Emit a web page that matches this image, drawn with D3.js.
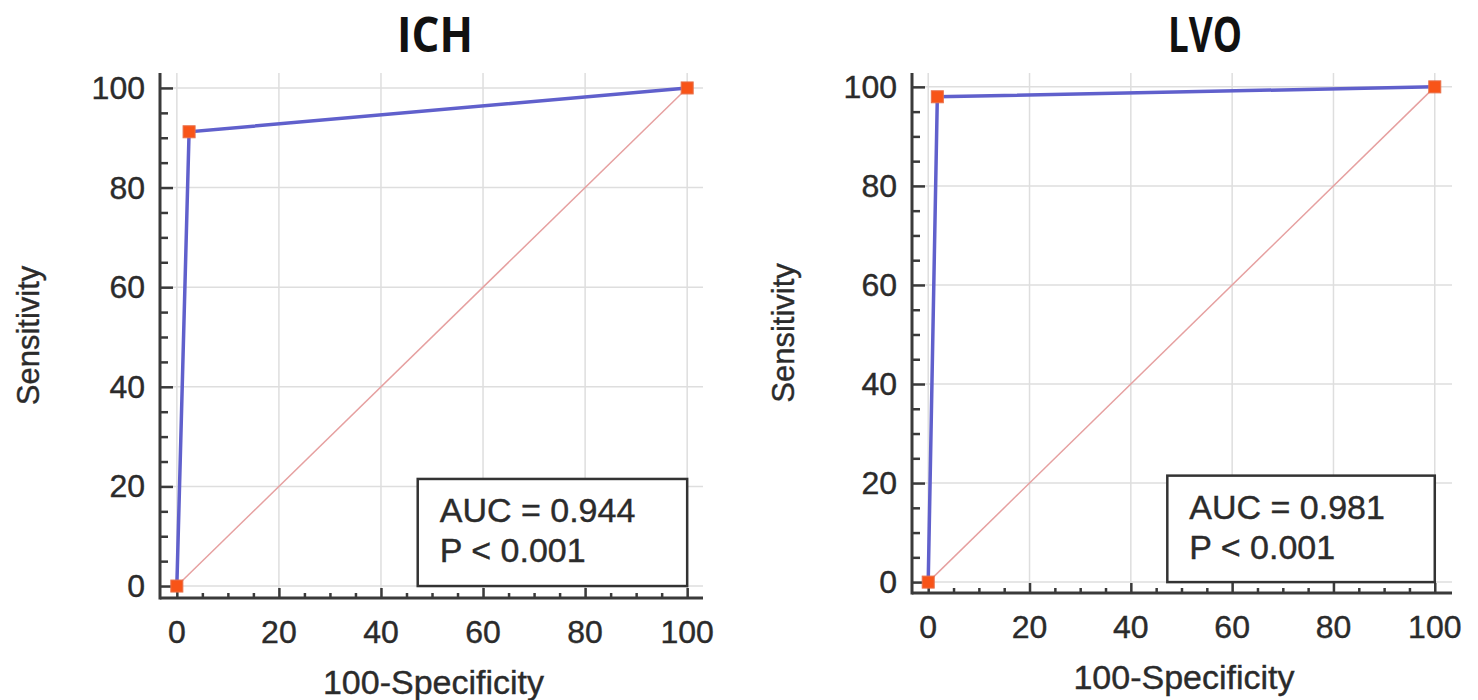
<!DOCTYPE html>
<html>
<head>
<meta charset="utf-8">
<script src="https://cdn.jsdelivr.net/npm/d3@7"></script>
<style>
  body { margin: 0; background: #fff; }
  svg text { font-family: "Liberation Sans", Arial, sans-serif; fill: #2b2b2b; stroke: #2b2b2b; stroke-width: 0.4; }
</style>
</head>
<body>
<svg id="chart" width="1478" height="700"></svg>
<script>
// data
var titles = ["ICH", "LVO"];
var fprICH = [0, 2.4, 100],  tprICH = [0, 91.2, 100];
var fprLVO = [0, 1.8, 100],  tprLVO = [0, 98.0, 100];
var aucText = ["AUC = 0.944", "AUC = 0.981"];
var pText = ["P < 0.001", "P < 0.001"];
var majorTicks = [0, 20, 40, 60, 80, 100];
var minorTicks = [5, 10, 15, 25, 30, 35, 45, 50, 55, 65, 70, 75, 85, 90, 95];
var xLabel = "100-Specificity", yLabel = "Sensitivity";

// layout of the two panels (pixel ranges of the axis lines)
var layout = [
  {xr: [160, 703], xd: [-3.3, 103.1], yr: [598, 73], yd: [-2.4, 103], cx: 435, ylab: 39},
  {xr: [912, 1452], xd: [-3.2, 103.4], yr: [593, 73], yd: [-2.2, 102.8], cx: 1205, ylab: 794}
];
var series = [
  {fpr: fprICH, tpr: tprICH},
  {fpr: fprLVO, tpr: tprLVO}
];

var svg = d3.select("#chart");

layout.forEach(function (L, i) {
  var x = d3.scaleLinear().domain(L.xd).range(L.xr),
      y = d3.scaleLinear().domain(L.yd).range(L.yr),
      g = svg.append("g");

  // grid
  g.selectAll(".vg").data(majorTicks).enter().append("line")
    .attr("x1", x).attr("x2", x)
    .attr("y1", L.yr[0]).attr("y2", L.yr[1])
    .attr("stroke", "#dedede").attr("stroke-width", 1.5);
  g.selectAll(".hg").data(majorTicks).enter().append("line")
    .attr("y1", y).attr("y2", y)
    .attr("x1", L.xr[0]).attr("x2", L.xr[1])
    .attr("stroke", "#dedede").attr("stroke-width", 1.5);

  // diagonal
  g.append("line")
    .attr("x1", x(0)).attr("y1", y(0)).attr("x2", x(100)).attr("y2", y(100))
    .attr("stroke", "#e6a0a0").attr("stroke-width", 1.5);

  // axes
  var xAxis = d3.axisTop(x).tickValues(majorTicks).tickSize(10).tickFormat("");
  var xMinor = d3.axisTop(x).tickValues(minorTicks).tickSize(5).tickFormat("");
  var yAxis = d3.axisRight(y).tickValues(majorTicks).tickSize(13).tickFormat("");
  var yMinor = d3.axisRight(y).tickValues(minorTicks).tickSize(8).tickFormat("");

  [[xAxis, "translate(0," + L.yr[0] + ")"], [xMinor, "translate(0," + L.yr[0] + ")"],
   [yAxis, "translate(" + L.xr[0] + ",0)"], [yMinor, "translate(" + L.xr[0] + ",0)"]].forEach(function (a) {
    var ag = g.append("g").attr("transform", a[1]).call(a[0].tickSizeOuter(0));
    ag.select(".domain").remove();
    ag.selectAll("line").attr("stroke", "#3a3a3a").attr("stroke-width", 2.5);
  });
  g.append("line").attr("x1", L.xr[0]).attr("x2", L.xr[1]).attr("y1", L.yr[0]).attr("y2", L.yr[0])
    .attr("stroke", "#3a3a3a").attr("stroke-width", 3);
  g.append("line").attr("x1", L.xr[0]).attr("x2", L.xr[0]).attr("y1", L.yr[0] + 1.5).attr("y2", L.yr[1])
    .attr("stroke", "#3a3a3a").attr("stroke-width", 3);

  // tick labels
  g.selectAll(".xl").data(majorTicks).enter().append("text")
    .attr("x", x).attr("y", L.yr[0] + 45)
    .attr("text-anchor", "middle").attr("font-size", 32).text(function (d) { return d; });
  g.selectAll(".yl").data(majorTicks).enter().append("text")
    .attr("x", L.xr[0] - 15).attr("y", function (d) { return y(d) + 11; })
    .attr("text-anchor", "end").attr("font-size", 32).text(function (d) { return d; });

  // axis titles
  g.append("text").attr("x", (L.xr[0] + L.xr[1]) / 2 + 2).attr("y", L.yr[0] + 96)
    .attr("text-anchor", "middle").attr("font-size", 34).text(xLabel);
  g.append("text")
    .attr("transform", "translate(" + L.ylab + "," + (L.yr[0] + L.yr[1]) / 2 + ") rotate(-90)")
    .attr("text-anchor", "middle").attr("font-size", 31).text(yLabel);

  // title
  g.append("text").attr("x", L.cx).attr("y", 52)
    .attr("text-anchor", "middle").attr("font-size", 48).attr("font-weight", "bold")
    .style("font-family", "'Open Sans', sans-serif").style("fill", "#111").style("stroke", "none")
    .attr("textLength", i === 0 ? 76 : 74).attr("lengthAdjust", "spacingAndGlyphs")
    .text(titles[i]);

  // ROC curve
  var s = series[i];
  var pts = s.fpr.map(function (f, k) { return [f, s.tpr[k]]; });
  g.append("path")
    .attr("d", d3.line().x(function (d) { return x(d[0]); }).y(function (d) { return y(d[1]); })(pts))
    .attr("fill", "none").attr("stroke", "#6060cc").attr("stroke-width", 3.5);
  g.selectAll(".pt").data(pts).enter().append("rect")
    .attr("x", function (d) { return x(d[0]) - 6; }).attr("y", function (d) { return y(d[1]) - 6; })
    .attr("width", 12).attr("height", 12)
    .attr("fill", "#f85418").attr("stroke", "#e8704a").attr("stroke-width", 1);

  // AUC box
  var bx = x(47.2), by = y(21.5);
  g.append("rect").attr("x", bx).attr("y", by)
    .attr("width", x(100) - bx).attr("height", y(0) - by)
    .attr("fill", "#fff").attr("stroke", "#333").attr("stroke-width", 2.5);
  g.append("text").attr("x", bx + 22).attr("y", by + 43).attr("font-size", 34).text(aucText[i]);
  g.append("text").attr("x", bx + 22).attr("y", by + 83).attr("font-size", 34).text(pText[i]);
});
</script>
</body>
</html>
